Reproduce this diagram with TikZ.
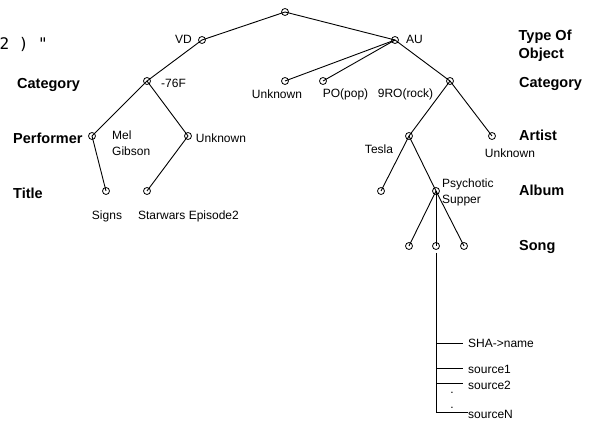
\documentclass[tikz,border=0pt]{standalone}
\usepackage{fontspec}
\setmainfont{Liberation Sans}
\newfontfamily\monofont{DejaVu Sans Mono}
\usepackage{tikz}

\begin{document}
\begin{tikzpicture}[x=1pt,y=-1pt,
	vertex/.style={draw,circle,minimum size=7pt,inner sep=0pt,line width=0.8pt},
	edge/.style={line width=0.9pt},
	lbl/.style={inner sep=0pt,font=\fontsize{12}{16}\selectfont},
	level/.style={inner sep=0pt,font=\fontsize{14.5}{18}\selectfont\bfseries}]
	\useasboundingbox (0,0) rectangle (592,422);
	% tree vertices
	\node[vertex] (root) at (285,12) {};
	\node[vertex] (vd) at (202,40) {};
	\node[vertex] (au) at (395,40) {};
	\node[vertex] (c76) at (147,81) {};
	\node[vertex] (unkA) at (285,81) {};
	\node[vertex] (po) at (323,81) {};
	\node[vertex] (rock) at (450,81) {};
	\node[vertex] (mel) at (92,136) {};
	\node[vertex] (unkP) at (188,136) {};
	\node[vertex] (tesla) at (409,136) {};
	\node[vertex] (unkR) at (492,136) {};
	\node[vertex] (signs) at (106,191) {};
	\node[vertex] (starw) at (147,191) {};
	\node[vertex] (alb1) at (381,191) {};
	\node[vertex] (psy) at (436,191) {};
	\node[vertex] (s1) at (409,246) {};
	\node[vertex] (s2) at (436,246) {};
	\node[vertex] (s3) at (464,246) {};
	\foreach \a/\b in {root/vd,root/au,vd/c76,c76/mel,c76/unkP,mel/signs,unkP/starw,
		au/unkA,au/po,au/rock,rock/tesla,rock/unkR,tesla/alb1,tesla/psy,psy/s1,psy/s2,psy/s3}
		\draw[edge] (\a.center) -- (\b.center);
	% vertex labels
	\node[lbl,anchor=base] (tVD) at (183.5,43.3) {VD};
	\node[lbl,anchor=base] (tAU) at (414.5,43.3) {AU};
	\node[lbl,anchor=base] (t76) at (173.5,87.3) {-76F};
	\node[lbl,anchor=base] (tUnkA) at (277,98.3) {Unknown};
	\node[lbl,anchor=base] (tPO) at (345.5,97.3) {PO(pop)};
	\node[lbl,anchor=base] (tRock) at (405.5,97.3) {9RO(rock)};
	\node[lbl,anchor=west,align=left] (tMel) at (112,143) {Mel\\Gibson};
	\node[lbl,anchor=base] (tUnkP) at (221,142.3) {Unknown};
	\node[lbl,anchor=base] (tTesla) at (379,153.3) {Tesla};
	\node[lbl,anchor=base] (tUnkR) at (510,157.3) {Unknown};
	\node[lbl,anchor=base] (tSigns) at (107,219.3) {Signs};
	\node[lbl,anchor=base] (tStarw) at (188.5,219.3) {Starwars Episode2};
	\node[lbl,anchor=west,align=left] (tPsy) at (442,192.2) {Psychotic\\Supper};
	% level names
	\node[level,anchor=west,align=left] (hType) at (518.5,45.5) {Type Of\\Object};
	\node[level,anchor=base west] (hCatR) at (519,87.2) {Category};
	\node[level,anchor=base west] (hArtist) at (519,140.2) {Artist};
	\node[level,anchor=base west] (hAlbum) at (519,195.2) {Album};
	\node[level,anchor=base west] (hSong) at (519,250.2) {Song};
	\node[level,anchor=base west] (hCatL) at (17,88.2) {Category};
	\node[level,anchor=base west] (hPerf) at (13,143.2) {Performer};
	\node[level,anchor=base west] (hTitle) at (13,198.2) {Title};
	\node[inner sep=0pt,anchor=base west,font=\monofont\fontsize{16}{18}\selectfont] (frag) at (-0.5,50) {2 ) "};
	% song record
	\node[lbl,anchor=base west] (sha) at (468,347.3) {SHA->name};
	\node[lbl,anchor=base west] (src1) at (468,373) {source1};
	\node[lbl,anchor=base west] (src2) at (468,389) {source2};
	\node[lbl,anchor=base west] (srcN) at (468,418) {sourceN};
	\node[lbl,anchor=base] (dot1) at (452,393.7) {.};
	\node[lbl,anchor=base] (dot2) at (452,408.7) {.};
	\coordinate (b1) at (436,343);
	\coordinate (b2) at (436,368);
	\coordinate (b3) at (436,383);
	\coordinate (bN) at (436,412);
	\draw[edge] ([yshift=-3pt]s2.south) -- (bN) -- (bN -| srcN.west);
	\foreach \p/\q in {b1/sha,b2/src1,b3/src2}
		\draw[edge] (\p) -- ([xshift=-5pt]\p -| \q.west);
\end{tikzpicture}
\end{document}
